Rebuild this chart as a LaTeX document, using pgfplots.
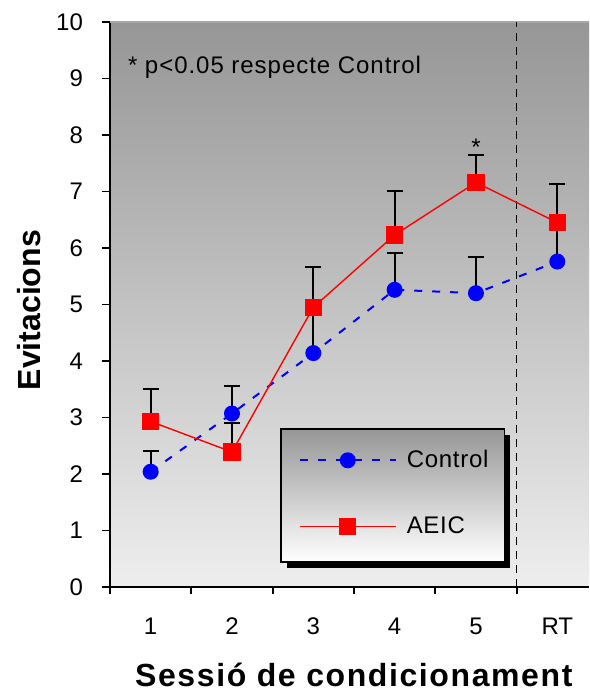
\documentclass[border=0pt]{standalone}
\usepackage{pgfplots}
\pgfplotsset{compat=1.18}
\usepackage{fontspec}
\setmainfont{Liberation Sans}
\setsansfont{Liberation Sans}
\usetikzlibrary{calc}

\definecolor{bgtop}{RGB}{150,150,150}
\definecolor{bgbot}{RGB}{238,238,238}
\definecolor{legmid}{RGB}{215,215,215}
\definecolor{ctrlblue}{RGB}{0,0,255}
\definecolor{aeicred}{RGB}{255,0,0}

\begin{document}
\begin{tikzpicture}
\begin{axis}[
    scale only axis,
    width=239.5pt,
    height=282.5pt,
    xmin=0.5, xmax=6.39,
    ymin=0, ymax=10,
    axis x line*=bottom,
    axis y line*=left,
    axis line style={black, line width=0.9pt},
    axis background/.style={top color=bgtop, bottom color=bgbot},
    xtick={1,2,3,4,5,6},
    xticklabels={1,2,3,4,5,RT},
    minor xtick={0.5,1.5,2.5,3.5,4.5,5.5},
    ytick={0,1,...,10},
    tick align=outside,
    major x tick style={draw=none},
    minor x tick style={black, line width=0.9pt},
    major y tick style={black, line width=0.9pt},
    major tick length=4pt,
    minor tick length=3.5pt,
    /pgf/number format/assume math mode=true,
    ticklabel style={font=\fontsize{12}{14}\selectfont},
    xticklabel style={yshift=-8pt},
    yticklabel style={xshift=-6pt},
    xlabel={Sessió de condicionament},
    ylabel={Evitacions},
    xlabel style={at={(axis description cs:0.509,0)}, anchor=center, yshift=-44pt,
        font=\addfontfeatures{LetterSpace=5}\fontsize{16}{18}\selectfont\bfseries},
    ylabel style={at={(axis description cs:0,0.49)}, anchor=center, yshift=40.5pt,
        font=\fontsize{16}{18}\selectfont\bfseries},
    legend style={at={(axis cs:4.0,1.66)}, anchor=center,
        draw=none, fill=none, inner sep=0pt,
        row sep=21pt, column sep=4pt,
        font=\addfontfeatures{LetterSpace=3}\fontsize{12}{14}\selectfont,
        nodes={inner sep=1pt}},
    legend cell align=left,
    legend image code/.code={%
        \draw[mark repeat=2, mark phase=2, #1] plot coordinates {(0pt,0pt) (24pt,0pt) (48pt,0pt)};},
    error bars/y dir=plus,
    error bars/y explicit,
    error bars/error bar style={black, line width=1pt, solid},
    error bars/error mark options={rotate=90, mark size=4pt, black, line width=1pt},
]
\coordinate (bl) at (rel axis cs:0,0);
\coordinate (tr) at (rel axis cs:1,1);
\draw[black!35, line width=0.6pt] (rel axis cs:0,1) -- (rel axis cs:1,1);
\draw[black, line width=0.8pt, dash pattern=on 4pt off 3pt] (axis cs:5.5,0) -- (axis cs:5.5,10);

\addplot[ctrlblue, line width=1pt, dash pattern=on 4pt off 5pt,
    mark=*, mark size=3.5pt, mark options={solid, fill=ctrlblue, draw=ctrlblue}]
    coordinates {(1,2.04) +- (0,0.36) (2,3.07) +- (0,0.49) (3,4.14) +- (0,0.74)
                 (4,5.26) +- (0,0.66) (5,5.20) +- (0,0.64) (6,5.76) +- (0,0.55)};
\addplot[aeicred, line width=0.7pt,
    mark=square*, mark size=4pt, mark options={solid, fill=aeicred, draw=aeicred}]
    coordinates {(1,2.93) +- (0,0.57) (2,2.39) +- (0,0.51) (3,4.95) +- (0,0.71)
                 (4,6.23) +- (0,0.78) (5,7.16) +- (0,0.49) (6,6.45) +- (0,0.69)};
\legend{Control, AEIC}

% legend box with its shadow
\fill[black] ([xshift=3pt,yshift=-3pt]axis cs:2.6,2.8) rectangle ([xshift=3pt,yshift=-3pt]axis cs:5.35,0.44);
\draw[black, line width=0.9pt, top color=bgtop, middle color=legmid, bottom color=white]
    (axis cs:2.6,2.8) rectangle (axis cs:5.35,0.44);

\node[anchor=south, font=\fontsize{12}{14}\selectfont, inner sep=1pt] at (axis cs:5,7.6) {*};
\node[anchor=west, inner sep=0pt, font=\addfontfeatures{LetterSpace=4}\fontsize{12}{14}\selectfont]
    at (axis cs:0.717,9.19) {* p<0.05 respecte Control};
\end{axis}
\pgfresetboundingbox
\useasboundingbox ($(bl)+(-55pt,-53.5pt)$) rectangle ($(tr)+(0pt,11pt)$);
\end{tikzpicture}
\end{document}
